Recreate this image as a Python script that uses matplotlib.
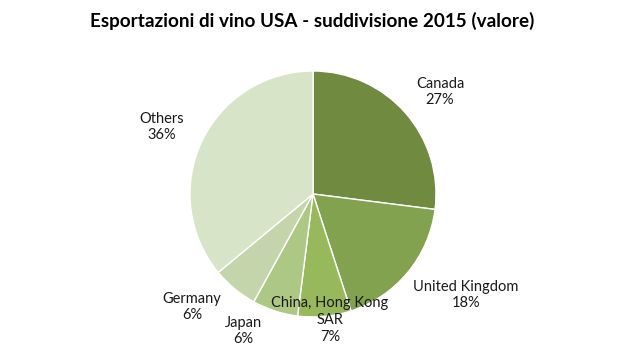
import matplotlib
matplotlib.use("Agg")
import matplotlib.pyplot as plt

# dati
paesi = ['Canada', 'United Kingdom', 'China, Hong Kong\nSAR', 'Japan', 'Germany', 'Others']
quote = [27, 18, 7, 6, 6, 36]
colori = ['#708a40', '#83a24f', '#97b95c', '#adc785', '#c4d5ab', '#d8e4c8']
# posizione delle etichette (in pixel dell'immagine di riferimento)
pos_etichette = [(440, 92), (466, 295), (330, 320), (243, 331), (192, 307), (162, 127)]

plt.rcParams['font.family'] = ['Lato', 'DejaVu Sans']

fig = plt.figure(figsize=(6.25, 3.51), dpi=100)
ax = fig.add_axes([0, 0, 1, 1])

cx, cy, r = 313, 194, 123
ax.pie(quote, colors=colori, startangle=90, counterclock=False, radius=1,
       wedgeprops=dict(edgecolor='white', linewidth=1))
ax.set_xlim(-cx / r, (625 - cx) / r)
ax.set_ylim((cy - 351) / r, cy / r)
ax.set_aspect('auto')
ax.axis('off')

for nome, q, (px, py) in zip(paesi, quote, pos_etichette):
    ax.text((px - cx) / r, (cy - py) / r, f'{nome}\n{q}%', ha='center', va='center',
            fontsize=10.5, linespacing=1.25, color='#1a1a1a')

fig.text(0.5, 1 - 21 / 351, 'Esportazioni di vino USA - suddivisione 2015 (valore)',
         ha='center', va='center', fontsize=13.6, fontweight='bold')

fig.savefig('out.png', dpi=100)
